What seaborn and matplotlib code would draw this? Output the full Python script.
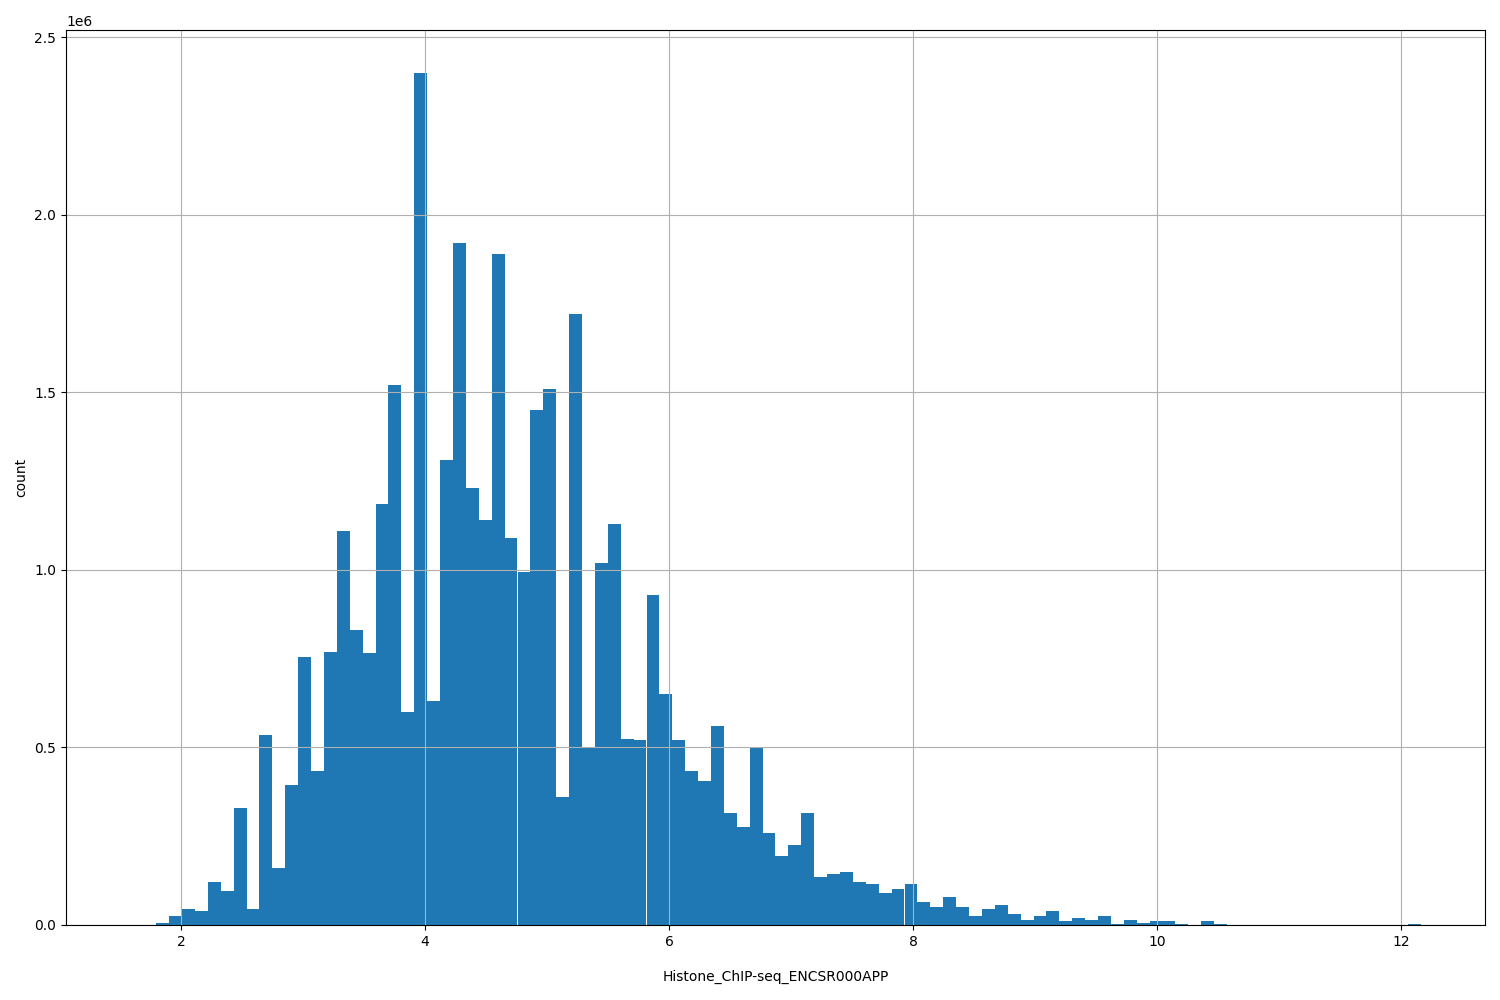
import numpy as np
import pandas as pd
import matplotlib
matplotlib.use("Agg")
import matplotlib.pyplot as plt
import seaborn as sns

x_min = 1.586
x_max = 12.16
n_bins = 100
counts_k = [0, 0, 5, 25, 45, 40, 120, 95, 330, 45,
            535, 160, 395, 755, 435, 770, 1110, 830, 765, 1185,
            1520, 600, 2400, 630, 1310, 1920, 1230, 1140, 1890, 1090,
            995, 1450, 1510, 360, 1720, 500, 1020, 1130, 525, 520,
            930, 650, 520, 435, 405, 560, 315, 275, 500, 260,
            195, 225, 315, 135, 145, 150, 120, 115, 90, 100,
            115, 65, 50, 80, 50, 25, 45, 55, 30, 15,
            25, 40, 10, 20, 15, 25, 3, 15, 5, 10,
            10, 3, 0, 12, 3, 0, 0, 0, 0, 0,
            0, 0, 0, 0, 0, 0, 0, 0, 0, 4]

edges = np.linspace(x_min, x_max, n_bins + 1)
centers = (edges[:-1] + edges[1:]) / 2
df = pd.DataFrame({"v": centers, "w": np.array(counts_k) * 1000.0})

fig, ax = plt.subplots(figsize=(15, 10), dpi=100)
fig.subplots_adjust(left=0.044, right=0.99, top=0.97, bottom=0.075)
sns.histplot(data=df, x="v", weights="w", bins=list(edges), ax=ax,
             color="#1f77b4", alpha=1, edgecolor="none", linewidth=0)
ax.set_xlim(x_min - 0.05 * (x_max - x_min), x_max + 0.05 * (x_max - x_min))
ax.grid(True)
ax.set_xlabel("Histone_ChIP-seq_ENCSR000APP", labelpad=15)
ax.set_ylabel("count")
fig.savefig("out.png")
